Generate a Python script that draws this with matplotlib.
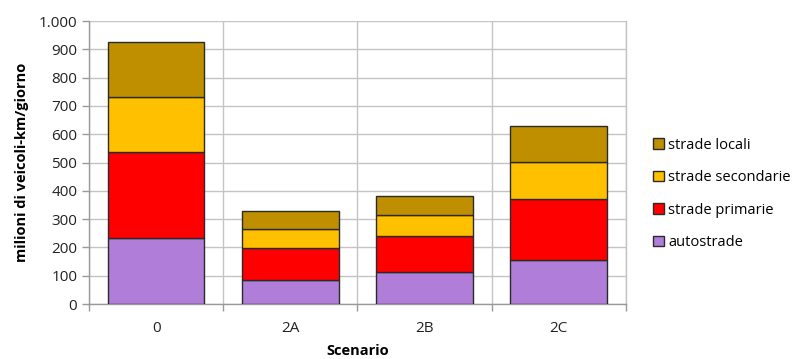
import matplotlib
matplotlib.use("Agg")
import matplotlib.pyplot as plt
from matplotlib.ticker import FuncFormatter, FixedLocator
import numpy as np

scenarios = ["0", "2A", "2B", "2C"]
autostrade = [235, 85, 114, 155]
strade_primarie = [302, 112, 126, 217]
strade_secondarie = [193, 68, 75, 130]
strade_locali = [195, 65, 67, 127]

series = [
    ("autostrade", autostrade, "#B07ED8"),
    ("strade primarie", strade_primarie, "#FF0000"),
    ("strade secondarie", strade_secondarie, "#FFC000"),
    ("strade locali", strade_locali, "#BF8F00"),
]

plt.rcParams["font.family"] = ["Open Sans", "DejaVu Sans"]

fig = plt.figure(figsize=(7.95, 3.59), dpi=100)
ax = fig.add_axes([0.112, 0.153, 0.675, 0.7885])

x = np.arange(len(scenarios))
bottom = np.zeros(len(scenarios))
handles = []
for name, vals, color in series:
    h = ax.bar(x, vals, width=0.72, bottom=bottom, color=color,
               edgecolor="#2a2a2a", linewidth=1.0, label=name, zorder=3)
    handles.append(h)
    bottom += np.array(vals)

ax.set_xlim(-0.5, len(scenarios) - 0.5)
ax.set_ylim(0, 1000)
ax.set_yticks(np.arange(0, 1001, 100))
ax.yaxis.set_major_formatter(FuncFormatter(lambda v, p: f"{int(v):,}".replace(",", ".")))

# category boundaries carry the vertical grid lines and ticks
ax.set_xticks(x)
ax.set_xticklabels(scenarios)
ax.xaxis.set_minor_locator(FixedLocator(np.arange(-0.5, len(scenarios), 1.0)))
ax.tick_params(axis="x", which="major", length=0, pad=12, labelsize=11, labelcolor="#222222")
ax.tick_params(axis="x", which="minor", length=5, color="#999999", width=1)
ax.tick_params(axis="y", length=5, color="#999999", width=1, labelsize=11, labelcolor="#222222")

ax.grid(True, axis="y", color="#c4c4c4", linewidth=1.0, zorder=0)
ax.grid(True, axis="x", which="minor", color="#c4c4c4", linewidth=1.0, zorder=0)
for side in ["left", "bottom", "right", "top"]:
    ax.spines[side].set_color("#999999")
    ax.spines[side].set_linewidth(1.0)
ax.spines["top"].set_visible(False)
ax.spines["right"].set_color("#c4c4c4")

ax.set_ylabel("milioni di veicoli-km/giorno", fontsize=10.5, fontweight="bold", labelpad=7)
ax.set_xlabel("Scenario", fontsize=10.5, fontweight="bold", labelpad=6)

leg = fig.legend(handles[::-1], [s[0] for s in series][::-1], loc="center left",
                 bbox_to_anchor=(0.821, 0.46), frameon=False, fontsize=10.5,
                 borderpad=0, borderaxespad=0,
                 handlelength=0.75, handleheight=0.75, handletextpad=0.3,
                 labelspacing=1.2)

fig.savefig("out.png", dpi=100)
